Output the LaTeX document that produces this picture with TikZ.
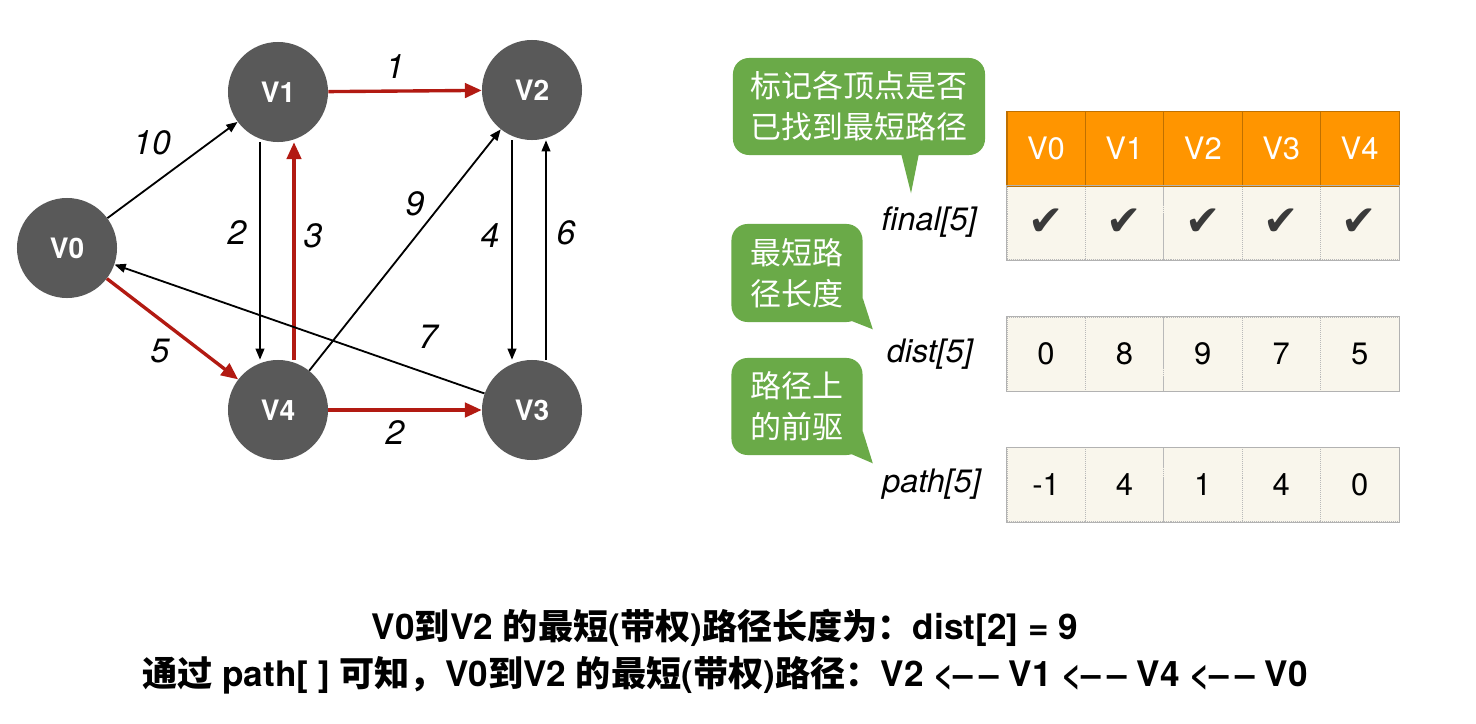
\documentclass[tikz,border=0pt]{standalone}
\usepackage{fontspec}
\setmainfont{TeX Gyre Heros}
\newfontfamily\cjk{Noto Sans CJK SC}
\newfontfamily\symb{DejaVu Sans}
\usetikzlibrary{arrows.meta}
\definecolor{nodegray}{HTML}{595959}
\definecolor{pathred}{HTML}{B21A12}
\definecolor{headorange}{HTML}{FF9500}
\definecolor{cellbeige}{HTML}{F9F6EC}
\definecolor{bubblegreen}{HTML}{6AAA48}
\definecolor{tickgray}{HTML}{3A3A3A}
\newcommand{\zh}[1]{{\cjk #1}}

\begin{document}
\begin{tikzpicture}[x=0.025cm, y=-0.025cm,
    vertex/.style={circle, fill=nodegray, minimum size=2.5cm, inner sep=0pt, text=white, font=\fontsize{20}{20}\selectfont\bfseries},
    edge/.style={line width=1.3pt, -{Triangle[length=0.28cm,width=0.22cm]}},
    hot/.style={line width=2.4pt, color=pathred, -{Triangle[length=0.42cm,width=0.36cm]}},
    weight/.style={font=\fontsize{24}{24}\selectfont\itshape},
    head/.style={rectangle, fill=headorange, draw=headorange!75!black, line width=0.4pt, minimum width=1.96cm, minimum height=1.85cm, inner sep=0pt, text=white, font=\fontsize{22}{22}\selectfont},
    cell/.style={rectangle, fill=cellbeige, draw=gray!55, densely dotted, minimum width=1.96cm, minimum height=1.85cm, inner sep=0pt, font=\fontsize{22}{22}\selectfont},
    arrname/.style={anchor=east, font=\fontsize{23}{23}\selectfont\itshape},
    bubble/.style={rectangle, rounded corners=0.4cm, fill=bubblegreen, text=white, align=center, inner sep=0pt, font=\fontsize{22}{29}\selectfont\cjk},
    note/.style={font=\fontsize{25}{25}\selectfont\bfseries}]
  \fill [white] (0,0) rectangle (1476,724);
  \useasboundingbox (0,0) rectangle (1476,724);

  % graph
  \node [vertex] (V0) at (67,248) {V0};
  \node [vertex] (V1) at (278,92) {V1};
  \node [vertex] (V2) at (532,90) {V2};
  \node [vertex] (V3) at (532,410) {V3};
  \node [vertex] (V4) at (278,410) {V4};

  \draw [edge] (V0) -- (V1);
  \draw [hot] (V1) -- (V2);
  \draw [edge] ([xshift=-0.45cm]V1.south) -- ([xshift=-0.45cm]V4.north);
  \draw [hot] ([xshift=0.4cm]V4.north) -- ([xshift=0.4cm]V1.south);
  \draw [edge] (V4) -- (V2);
  \draw [edge] ([xshift=-0.5cm]V2.south) -- ([xshift=-0.5cm]V3.north);
  \draw [edge] ([xshift=0.35cm]V3.north) -- ([xshift=0.35cm]V2.south);
  \draw [edge] (V3) -- (V0);
  \draw [hot] (V0) -- (V4);
  \draw [hot] (V4) -- (V3);

  \node [weight] (w01) at (152,143) {10};
  \node [weight] (w12) at (395,67) {1};
  \node [weight] (w14) at (237,233) {2};
  \node [weight] (w41) at (313,236) {3};
  \node [weight] (w42) at (415,204) {9};
  \node [weight] (w23) at (490,236) {4};
  \node [weight] (w32) at (566,233) {6};
  \node [weight] (w30) at (428,337) {7};
  \node [weight] (w04) at (160,351) {5};
  \node [weight] (w43) at (395,433) {2};

  % arrays
  \foreach \v [count=\i from 0] in {V0,V1,V2,V3,V4} {
    \node [head] (h\i) at (1046+78.4*\i,148.5) {\v};
    \node [cell] (f\i) at (1046+78.4*\i,222.5) {\textcolor{tickgray}{\fontsize{30}{30}\selectfont\symb ✔}};
  }
  \foreach \d [count=\i from 0] in {0,8,9,7,5}
    \node [cell] (d\i) at (1046+78.4*\i,354) {\d};
  \foreach \p [count=\i from 0] in {-1,4,1,4,0}
    \node [cell] (p\i) at (1046+78.4*\i,484.5) {\p};
  \draw [headorange!75!black] (h0.north west) rectangle (h4.south east);
  \draw [gray!60] (f0.north west) rectangle (f4.south east);
  \draw [gray!60] (d0.north west) rectangle (d4.south east);
  \draw [gray!60] (p0.north west) rectangle (p4.south east);

  \node [arrname] (nfinal) at ([xshift=-0.62cm]f0.west) {final[5]};
  \node [arrname] (ndist) at ([xshift=-0.72cm]d0.west) {dist[5]};
  \node [arrname] (npath) at ([xshift=-0.52cm]p0.west) {path[5]};

  % speech bubbles
  \node [bubble, minimum width=6.3cm, minimum height=2.425cm] (b1) at (859,106.5) {标记各顶点是否\\已找到最短路径};
  \fill [bubblegreen] ([xshift=1.05cm,yshift=0.05cm]b1.south) -- ([xshift=1.5cm,yshift=0.05cm]b1.south) -- ([xshift=1.3cm,yshift=-0.95cm]b1.south) -- cycle;
  \node [bubble, minimum width=3.275cm, minimum height=2.45cm] (b2) at (797,273) {最短路\\径长度};
  \fill [bubblegreen] ([xshift=-0.45cm,yshift=0.1cm]b2.south east) -- ([yshift=0.6cm]b2.south east) -- ([xshift=0.25cm,yshift=-0.175cm]b2.south east) -- cycle;
  \node [bubble, minimum width=3.275cm, minimum height=2.425cm] (b3) at (797,406.5) {路径上\\的前驱};
  \fill [bubblegreen] ([xshift=-0.45cm,yshift=0.1cm]b3.south east) -- ([yshift=0.6cm]b3.south east) -- ([xshift=0.25cm,yshift=-0.2cm]b3.south east) -- cycle;

  % result
  \node [note] (t1) at (725,628) {V0\zh{到}V2 \zh{的最短}(\zh{带权})\zh{路径长度为：}dist[2] = 9};
  \node [note] (t2) at (725,675) {\zh{通过} path[ ] \zh{可知，}V0\zh{到}V2 \zh{的最短}(\zh{带权})\zh{路径：}V2 <–\,– V1 <–\,– V4 <–\,– V0};
\end{tikzpicture}
\end{document}
